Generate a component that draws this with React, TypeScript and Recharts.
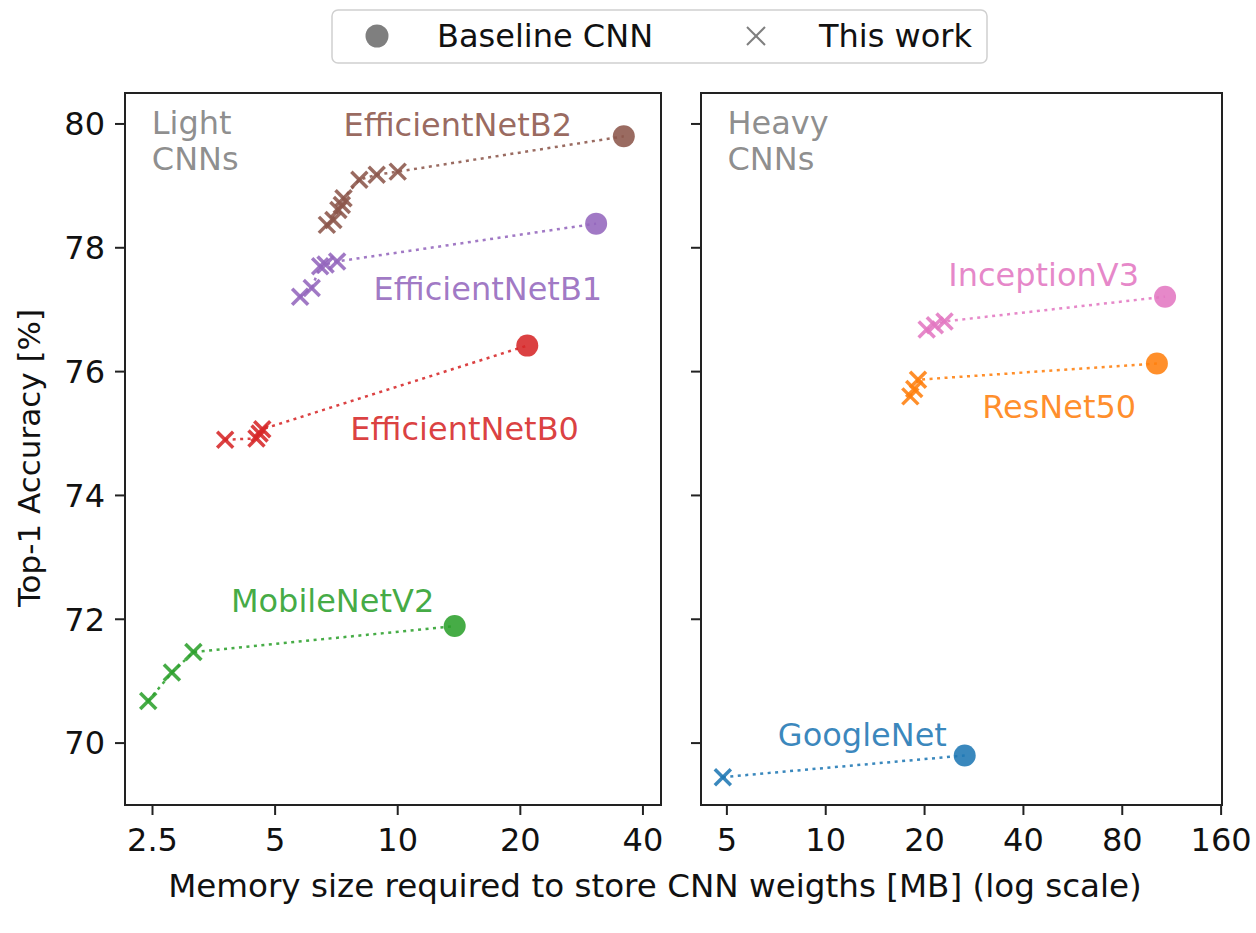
import React from 'react';
import { ScatterChart, Scatter, XAxis, YAxis, ReferenceDot, ReferenceArea } from 'recharts';

const FONT = '"DejaVu Sans", Verdana, sans-serif';

// ---- axes ----
const LEFT_TICKS = [2.5, 5, 10, 20, 40];
const RIGHT_TICKS = [5, 10, 20, 40, 80, 160];
const Y_TICKS = [70, 72, 74, 76, 78, 80];
const LEFT_DOMAIN = [2.14, 44.3];
const RIGHT_DOMAIN = [4.17, 161];
const Y_DOMAIN = [69, 80.5];

// ---- colors ----
const C_BROWN = '#8c564b';
const C_PURPLE = '#9467bd';
const C_RED = '#d62728';
const C_GREEN = '#2ca02c';
const C_BLUE = '#1f77b4';
const C_ORANGE = '#ff7f0e';
const C_PINK = '#e377c2';
const C_GRAY = '#7f7f7f';
const ALPHA = 0.88;

// ---- data: Light CNNs ----
const b2Baseline = [{ x: 35.9, y: 79.8 }];
const b2Ours = [
  { x: 6.7, y: 78.37 }, { x: 6.95, y: 78.45 }, { x: 7.15, y: 78.61 }, { x: 7.29, y: 78.69 },
  { x: 7.36, y: 78.8 }, { x: 8.05, y: 79.1 }, { x: 8.88, y: 79.18 }, { x: 10.0, y: 79.23 },
];
const b1Baseline = [{ x: 30.7, y: 78.39 }];
const b1Ours = [
  { x: 5.76, y: 77.21 }, { x: 6.15, y: 77.35 }, { x: 6.45, y: 77.7 }, { x: 6.65, y: 77.73 }, { x: 7.1, y: 77.78 },
];
const b0Baseline = [{ x: 20.8, y: 76.42 }];
const b0Ours = [
  { x: 3.77, y: 74.9 }, { x: 4.5, y: 74.92 }, { x: 4.58, y: 75.0 }, { x: 4.65, y: 75.07 },
];
const mbBaseline = [{ x: 13.8, y: 71.89 }];
const mbOurs = [{ x: 2.44, y: 70.68 }, { x: 2.79, y: 71.14 }, { x: 3.15, y: 71.47 }];

// ---- data: Heavy CNNs ----
const incBaseline = [{ x: 108, y: 77.21 }];
const incOurs = [{ x: 20.3, y: 76.68 }, { x: 21.5, y: 76.75 }, { x: 23.0, y: 76.81 }];
const resBaseline = [{ x: 102, y: 76.13 }];
const resOurs = [{ x: 18.1, y: 75.6 }, { x: 18.6, y: 75.72 }, { x: 19.1, y: 75.87 }];
const gnBaseline = [{ x: 26.5, y: 69.8 }];
const gnOurs = [{ x: 4.86, y: 69.45 }];

// ---- annotation anchors (data coords) ----
const LEFT_LABELS = [
  { text: 'EfficientNetB2', x: 14.04, y: 79.81, color: C_BROWN, anchor: 'middle' },
  { text: 'EfficientNetB1', x: 16.65, y: 77.16, color: C_PURPLE, anchor: 'middle' },
  { text: 'EfficientNetB0', x: 14.6, y: 74.9, color: C_RED, anchor: 'middle' },
  { text: 'MobileNetV2', x: 6.92, y: 72.12, color: C_GREEN, anchor: 'middle' },
  { text: 'Light', x: 2.49, y: 79.83, color: C_GRAY, anchor: 'start' },
  { text: 'CNNs', x: 2.49, y: 79.26, color: C_GRAY, anchor: 'start' },
];
const RIGHT_LABELS = [
  { text: 'InceptionV3', x: 46.1, y: 77.38, color: C_PINK, anchor: 'middle' },
  { text: 'ResNet50', x: 51.4, y: 75.25, color: C_ORANGE, anchor: 'middle' },
  { text: 'GoogleNet', x: 12.93, y: 69.96, color: C_BLUE, anchor: 'middle' },
  { text: 'Heavy', x: 5.02, y: 79.83, color: C_GRAY, anchor: 'start' },
  { text: 'CNNs', x: 5.02, y: 79.26, color: C_GRAY, anchor: 'start' },
];

function makeSeries(ours: any[], base: any[]) {
  return [
    ...ours.map((p) => ({ ...p, kind: 'ours' })),
    ...base.map((p) => ({ ...p, kind: 'base' })),
  ].sort((a, b) => a.x - b.x);
}

const LEFT_SERIES = [
  { name: 'EfficientNetB2', color: C_BROWN, data: makeSeries(b2Ours, b2Baseline) },
  { name: 'EfficientNetB1', color: C_PURPLE, data: makeSeries(b1Ours, b1Baseline) },
  { name: 'EfficientNetB0', color: C_RED, data: makeSeries(b0Ours, b0Baseline) },
  { name: 'MobileNetV2', color: C_GREEN, data: makeSeries(mbOurs, mbBaseline) },
];
const RIGHT_SERIES = [
  { name: 'InceptionV3', color: C_PINK, data: makeSeries(incOurs, incBaseline) },
  { name: 'ResNet50', color: C_ORANGE, data: makeSeries(resOurs, resBaseline) },
  { name: 'GoogleNet', color: C_BLUE, data: makeSeries(gnOurs, gnBaseline) },
];

const markerShape = (color: string) => (props: any) => {
  const { cx, cy, payload } = props;
  if (cx == null || cy == null) return <g />;
  if (payload && payload.kind === 'base') {
    return <circle cx={cx} cy={cy} r={11} fill={color} fillOpacity={ALPHA} />;
  }
  const h = 8;
  return (
    <g stroke={color} strokeOpacity={ALPHA} strokeWidth={3.5}>
      <line x1={cx - h} y1={cy - h} x2={cx + h} y2={cy + h} />
      <line x1={cx - h} y1={cy + h} x2={cx + h} y2={cy - h} />
    </g>
  );
};

const AXIS_COLOR = '#222';

function Panel(props: any) {
  const { left, width, yAxisWidth, rightMargin, domain, ticks, series, labels, showYLabels } = props;
  return (
    <div style={{ position: 'absolute', left, top: 0 }}>
      <ScatterChart width={width} height={933} margin={{ top: 93, right: rightMargin, bottom: 68, left: 0 }}>
        <XAxis
          type="number"
          dataKey="x"
          scale="log"
          domain={domain}
          allowDataOverflow
          ticks={ticks}
          interval={0}
          tickFormatter={(v: number) => String(v)}
          height={60}
          tickSize={10}
          tickMargin={13}
          stroke={AXIS_COLOR}
          strokeWidth={2}
          tick={{ fill: '#111', fontSize: 32, fontFamily: FONT }}
        />
        <YAxis
          type="number"
          dataKey="y"
          domain={Y_DOMAIN}
          allowDataOverflow
          ticks={Y_TICKS}
          interval={0}
          width={yAxisWidth}
          tickSize={10}
          tickMargin={10}
          stroke={AXIS_COLOR}
          strokeWidth={2}
          tickFormatter={(v: number) => (showYLabels ? String(v) : '')}
          tick={{ fill: '#111', fontSize: 32, fontFamily: FONT }}
        />
        <ReferenceArea
          x1={domain[0]}
          x2={domain[1]}
          y1={Y_DOMAIN[0]}
          y2={Y_DOMAIN[1]}
          fill="none"
          fillOpacity={0}
          stroke={AXIS_COLOR}
          strokeWidth={2}
          ifOverflow="visible"
        />
        {series.map((s: any) => (
          <Scatter
            key={s.name}
            name={s.name}
            data={s.data}
            fill={s.color}
            isAnimationActive={false}
            line={{ stroke: s.color, strokeOpacity: ALPHA, strokeWidth: 2.5, strokeDasharray: '3 4.5' }}
            shape={markerShape(s.color)}
          />
        ))}
        {labels.map((l: any, i: number) => (
          <ReferenceDot
            key={i}
            x={l.x}
            y={l.y}
            r={0}
            ifOverflow="visible"
            shape={(p: any) => (
              <text
                x={p.cx}
                y={p.cy}
                textAnchor={l.anchor}
                fill={l.color}
                fillOpacity={ALPHA}
                fontSize={32}
                fontFamily={FONT}
              >
                {l.text}
              </text>
            )}
          />
        ))}
      </ScatterChart>
    </div>
  );
}

export default function App() {
  return (
    <div style={{ position: 'absolute', left: 0, top: 0, width: 1256, height: 933, background: '#fff', overflow: 'hidden' }}>
      <Panel
        left={0}
        width={700}
        yAxisWidth={125}
        rightMargin={39}
        domain={LEFT_DOMAIN}
        ticks={LEFT_TICKS}
        series={LEFT_SERIES}
        labels={LEFT_LABELS}
        showYLabels
      />
      <Panel
        left={640}
        width={616}
        yAxisWidth={61}
        rightMargin={34}
        domain={RIGHT_DOMAIN}
        ticks={RIGHT_TICKS}
        series={RIGHT_SERIES}
        labels={RIGHT_LABELS}
        showYLabels={false}
      />
      <svg
        width={1256}
        height={933}
        style={{ position: 'absolute', left: 0, top: 0, pointerEvents: 'none' }}
      >
        {/* legend */}
        <rect x={332} y={10} width={655} height={53} rx={6} fill="#fff" stroke="#d0d0d0" strokeWidth={1.5} />
        <circle cx={377} cy={36} r={11.5} fill={C_GRAY} />
        <text x={437} y={47} fontSize={32} fontFamily={FONT} fill="#111">Baseline CNN</text>
        <g stroke={C_GRAY} strokeWidth={2}>
          <line x1={747} y1={27} x2={765} y2={45} />
          <line x1={747} y1={45} x2={765} y2={27} />
        </g>
        <text x={819} y={47} fontSize={32} fontFamily={FONT} fill="#111">This work</text>
        {/* axis titles */}
        <text x={655} y={897} textAnchor="middle" fontSize={32.6} fontFamily={FONT} fill="#111">
          Memory size required to store CNN weigths [MB] (log scale)
        </text>
        <text
          x={0}
          y={0}
          transform="translate(40 458) rotate(-90)"
          textAnchor="middle"
          fontSize={31}
          fontFamily={FONT}
          fill="#111"
        >
          Top-1 Accuracy [%]
        </text>
      </svg>
    </div>
  );
}
